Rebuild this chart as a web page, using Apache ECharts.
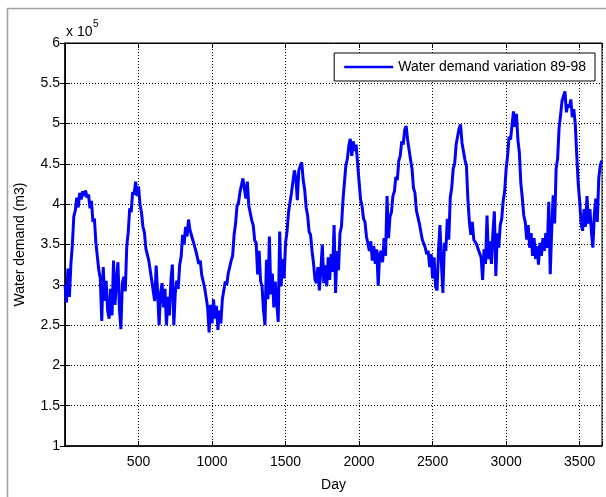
<!DOCTYPE html>
<html>
<head>
<meta charset="utf-8">
<script src="https://cdn.jsdelivr.net/npm/echarts@6/dist/echarts.min.js"></script>
<style>html,body{margin:0;padding:0;background:#fff}#c{width:606px;height:497px}</style>
</head>
<body>
<div id="c"></div>
<script>
// Day axis: one reading every 10 days, starting on day 0
const dayStart = 0;
const dayStep = 10;
// Water demand (x 10^5 m3)
const demand = [
3.0,2.78,3.2,2.85,3.25,3.5,3.85,3.92,4.08,3.96,
4.14,4.06,4.16,4.1,4.17,4.08,4.12,3.95,4.04,3.78,
3.82,3.52,3.5,3.18,3.08,2.55,3.22,2.8,3.05,2.68,
2.58,2.95,2.62,3.3,2.75,3.05,3.28,2.7,2.45,3.02,
3.1,2.92,3.48,3.65,3.95,3.9,4.15,4.12,4.28,4.1,
4.22,4.0,3.9,3.72,3.65,3.45,3.45,3.3,3.3,3.05,
3.05,2.8,3.24,2.9,2.5,2.9,3.02,2.72,2.95,2.5,
2.85,2.62,3.05,3.25,2.5,2.9,3.05,2.95,3.25,3.35,
3.62,3.5,3.72,3.6,3.81,3.68,3.7,3.55,3.56,3.42,
3.44,3.26,3.3,3.12,3.14,2.96,2.98,2.72,2.41,2.75,
2.52,2.82,2.58,2.74,2.44,2.68,2.52,2.82,2.82,3.04,
3.0,3.14,3.16,3.3,3.36,3.62,3.76,3.98,4.02,4.15,
4.16,4.32,4.3,4.07,4.28,3.98,3.98,3.8,3.74,3.55,
3.52,3.13,3.42,3.05,2.98,2.68,2.5,3.31,2.82,3.6,
2.88,3.14,2.72,3.04,2.78,2.54,3.66,2.98,3.32,3.08,
3.52,3.66,3.9,3.92,4.14,4.28,4.42,4.32,4.05,4.42,
4.4,4.52,4.3,4.18,3.96,3.86,3.66,3.62,3.42,3.27,
3.06,3.02,3.22,2.93,3.18,3.5,3.02,3.24,2.98,3.34,
3.06,3.38,3.16,3.74,2.9,3.42,3.18,3.64,3.72,4.04,
4.26,4.48,4.56,4.72,4.81,4.6,4.78,4.66,4.74,4.5,
4.28,4.06,3.98,3.82,3.78,3.6,3.58,3.42,3.54,3.3,
3.48,3.26,3.44,2.99,3.38,3.42,3.28,3.58,3.36,4.1,
3.58,3.84,3.9,4.1,4.16,4.34,4.3,4.54,4.6,4.78,
4.74,4.92,4.97,4.8,4.78,4.55,4.44,4.2,4.14,3.92,
3.94,3.76,3.74,3.56,3.58,3.46,3.38,3.42,3.22,3.38,
3.08,3.34,2.98,2.93,3.42,3.74,3.26,2.9,3.52,3.42,
3.82,3.56,4.08,4.2,4.44,4.5,4.74,4.76,4.94,4.99,
4.76,4.74,4.55,4.48,4.06,3.78,3.62,3.78,3.56,3.54,
3.5,3.44,3.46,3.34,3.06,3.44,3.26,3.86,3.32,3.54,
3.26,3.64,3.91,3.11,3.64,3.46,3.74,3.82,4.04,4.16,
4.44,4.6,4.84,4.8,4.98,5.15,4.96,5.12,4.8,4.64,
4.26,4.08,3.86,3.78,3.56,3.74,3.46,3.64,3.36,3.58,
3.32,3.48,3.25,3.52,3.36,3.58,3.42,3.64,3.46,4.03,
3.13,3.68,4.11,3.76,4.44,4.56,4.94,5.1,5.28,5.3,
5.4,5.14,5.24,5.2,5.3,5.08,5.18,5.0,4.62,4.26,
4.04,3.76,3.67,3.94,3.72,4.1,3.76,3.94,3.66,3.46,
3.88,4.07,3.78,4.32,4.48,4.54
];
const xTicks = [500,1000,1500,2000,2500,3000,3500];
const yTicks = [1,1.5,2,2.5,3,3.5,4,4.5,5,5.5,6];
const seriesName = 'Water demand variation 89-98';

const points = demand.map((v, i) => [dayStart + i * dayStep, v]);

const chart = echarts.init(document.getElementById('c'), null, {renderer: 'canvas'});
const font = 'Liberation Sans, Arial, Helvetica, sans-serif';
const gridLine = {show: true, lineStyle: {color: '#000', type: [1, 2], width: 1}};
chart.setOption({
  animation: false,
  backgroundColor: '#fff',
  textStyle: {fontFamily: font},
  grid: {left: 65, right: 4, top: 43, bottom: 47, show: true, borderColor: '#000', borderWidth: 1, containLabel: false},
  legend: {
    data: [{name: seriesName, icon: 'rect'}],
    right: 11, top: 53,
    orient: 'horizontal',
    backgroundColor: '#fff',
    borderColor: '#000', borderWidth: 1, borderRadius: 0,
    padding: [6, 9, 6, 10],
    itemWidth: 49, itemHeight: 2.5, itemGap: 5,
    itemStyle: {color: '#0000ff', borderWidth: 0},
    textStyle: {fontFamily: font, fontSize: 14, color: '#000', lineHeight: 16}
  },
  xAxis: [{
    type: 'value', min: 0, max: 3652, interval: 500,
    name: 'Day', nameLocation: 'middle', nameGap: 32,
    nameTextStyle: {fontFamily: font, fontSize: 14, color: '#000'},
    axisLine: {show: true, lineStyle: {color: '#000', width: 1.5}},
    axisTick: {show: true, inside: true, length: 5, lineStyle: {color: '#000'}},
    axisLabel: {fontFamily: font, fontSize: 14, color: '#000', margin: 9,
      formatter: v => xTicks.indexOf(v) >= 0 ? String(v) : ''},
    splitLine: gridLine
  }, {
    type: 'value', min: 0, max: 3652, interval: 500, position: 'top',
    axisLine: {show: true, lineStyle: {color: '#000', width: 1}},
    axisTick: {show: true, inside: true, length: 5, lineStyle: {color: '#000'}},
    axisLabel: {show: false}, splitLine: {show: false}
  }],
  yAxis: [{
    type: 'value', min: 1, max: 6, interval: 0.5,
    name: 'Water demand (m3)', nameLocation: 'middle', nameGap: 38, nameRotate: 90,
    nameTextStyle: {fontFamily: font, fontSize: 14, color: '#000'},
    axisLine: {show: true, lineStyle: {color: '#000', width: 1.5}},
    axisTick: {show: true, inside: true, length: 5, lineStyle: {color: '#000'}},
    axisLabel: {fontFamily: font, fontSize: 14, color: '#000', margin: 5,
      formatter: v => yTicks.indexOf(v) >= 0 ? String(v) : ''},
    splitLine: gridLine
  }, {
    type: 'value', min: 1, max: 6, interval: 0.5, position: 'right',
    axisLine: {show: true, lineStyle: {color: '#000', width: 1}},
    axisTick: {show: true, inside: true, length: 5, lineStyle: {color: '#000'}},
    axisLabel: {show: false}, splitLine: {show: false}
  }],
  graphic: [
    {type: 'line', shape: {x1: 7.5, y1: 8, x2: 7.5, y2: 497}, style: {stroke: '#a0a0a0', lineWidth: 1.5}},
    {type: 'line', shape: {x1: 7, y1: 8.5, x2: 606, y2: 8.5}, style: {stroke: '#a0a0a0', lineWidth: 1.5}},
    {type: 'text', left: 66, top: 25, style: {text: 'x 10', font: '14px ' + font, fill: '#000'}},
    {type: 'text', left: 93, top: 19, style: {text: '5', font: '10px ' + font, fill: '#000'}}
  ],
  series: [{
    name: seriesName,
    type: 'line',
    data: points,
    symbol: 'none',
    sampling: null,
    lineStyle: {color: '#0000ff', width: 3},
    itemStyle: {color: '#0000ff'}
  }]
});
</script>
</body>
</html>
